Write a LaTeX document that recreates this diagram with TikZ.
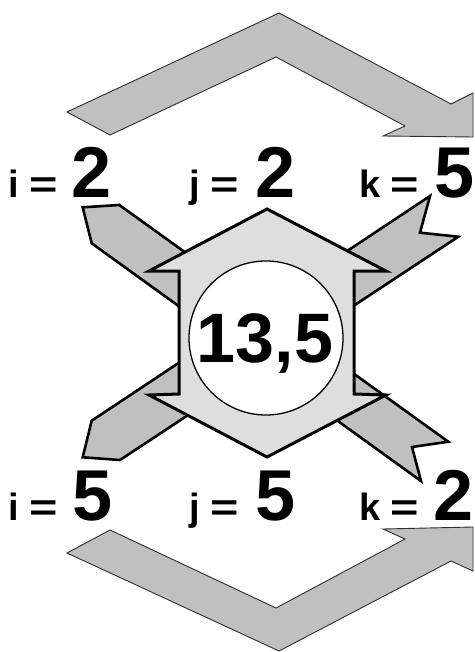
\documentclass[tikz,border=0pt]{standalone}
\usepackage{fontspec}
\setmainfont{Liberation Sans}
\definecolor{arrowgray}{RGB}{192,192,192}
\definecolor{hexgray}{RGB}{222,222,222}
\definecolor{edgegray}{RGB}{45,45,45}
\newcommand{\wideeq}{\scalebox{1.28}[1]{=}}
\begin{document}
\begin{tikzpicture}[x=1pt,y=-1pt,
  chevron/.style={fill=arrowgray, draw=edgegray, line width=0.9pt, line join=miter},
  bar/.style={fill=arrowgray, draw=black, line width=2.6pt, line join=miter},
  hexa/.style={fill=hexgray, draw=black, line width=3pt, line join=miter},
  ring/.style={fill=white, draw=black, line width=1.3pt},
  sm/.style={inner sep=0pt, font=\fontsize{38}{40}\selectfont\bfseries},
  big/.style={inner sep=0pt, font=\fontsize{72}{74}\selectfont\bfseries},
]
\useasboundingbox (0,0) rectangle (474,652);
% top chevron arrow
\path[chevron] (67,112) -- (279,13) -- (451,104) -- (473,93) -- (473,137)
  -- (383,136) -- (405,126) -- (276,57) -- (110,135) -- cycle;
% bottom chevron arrow
\path[chevron] (67,553) -- (279,651) -- (451,561) -- (473,571) -- (473,527)
  -- (383,529) -- (405,539) -- (276,608) -- (110,530) -- cycle;
% diagonal bar: upper left to lower right
\path[bar] (119.3,205) -- (448.3,441.7) -- (412,447) -- (421,481)
  -- (91.7,243.3) -- (82.7,207.3) -- cycle;
% diagonal bar: upper right to lower left
\path[bar] (430,196) -- (91.7,420.7) -- (82.7,457.3) -- (120,460)
  -- (458.3,236.7) -- (420,232.7) -- cycle;
% central hexagon
\path[hexa] (267,209) -- (386,271) -- (354,271) -- (354,394) -- (386,395)
  -- (267,457) -- (149,395) -- (179,394) -- (179,271) -- (149,271) -- cycle;
\node[ring, circle, minimum size=154pt, inner sep=0pt] (ring) at (266,338) {};
\node[big, anchor=base, font=\fontsize{70}{72}\selectfont\bfseries] (val) at (265,362) {13,5};
% top labels
\node[sm, anchor=base east] (ti) at (58.5,198) {i \wideeq};
\node[big, anchor=base west] (tiv) at (71,198) {2};
\node[sm, anchor=base east] (tj) at (239.5,198) {j \wideeq};
\node[big, anchor=base west] (tjv) at (255,198) {2};
\node[sm, anchor=base east] (tk) at (419.5,198) {k \wideeq};
\node[big, anchor=base west] (tkv) at (434,198) {5};
% bottom labels
\node[sm, anchor=base east] (bi) at (58.5,520) {i \wideeq};
\node[big, anchor=base west] (biv) at (72,520) {5};
\node[sm, anchor=base east] (bj) at (239.5,520) {j \wideeq};
\node[big, anchor=base west] (bjv) at (255,520) {5};
\node[sm, anchor=base east] (bk) at (419.5,520) {k \wideeq};
\node[big, anchor=base west] (bkv) at (433,520) {2};
\end{tikzpicture}
\end{document}
